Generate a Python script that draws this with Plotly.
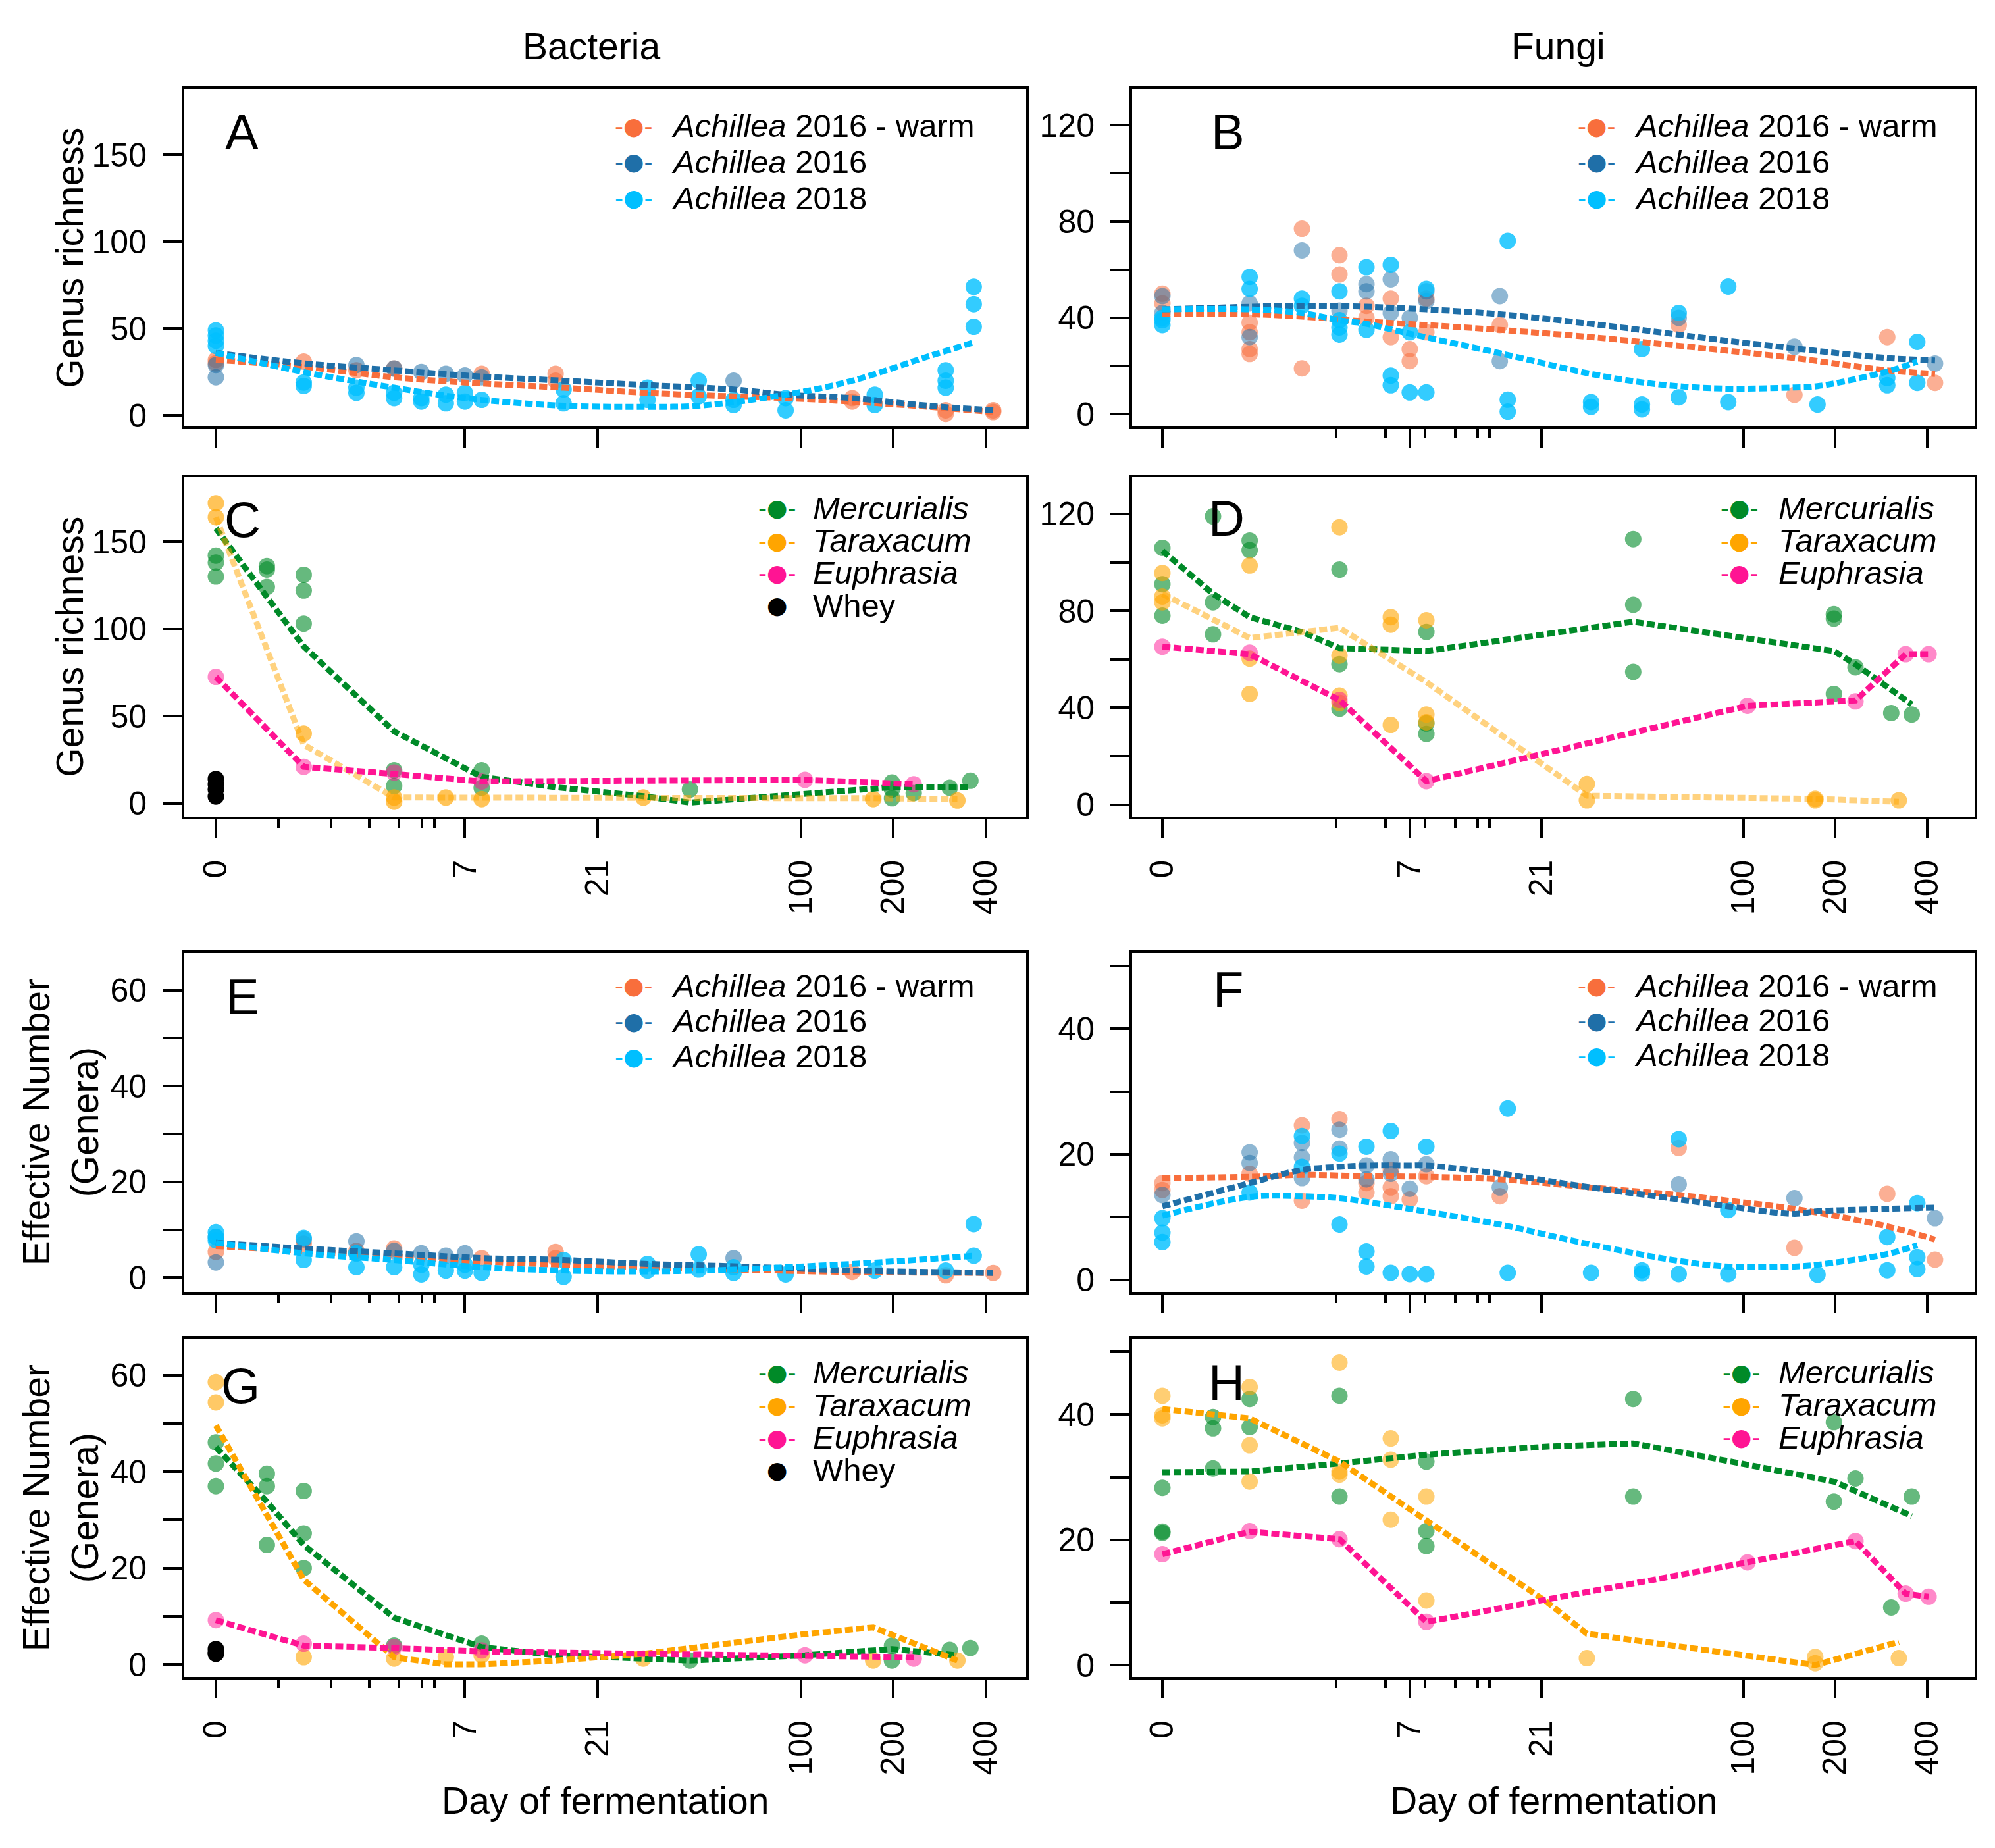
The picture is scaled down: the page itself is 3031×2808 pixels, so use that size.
import numpy as np
import plotly.graph_objects as go

W, H = 3031, 2808
OFF = 1.3  # shift used by the log day axis


def tx(days):
    return np.log((np.asarray(days, dtype=float) + OFF) / OFF)


# ---------------- data (day of fermentation, value) ----------------
# A: bacteria genus richness, Achillea
a_warm_day = [0, 0, 1.2, 2.4, 3.6, 8.1, 15, 15, 147, 147, 296, 296, 422, 422]
a_warm_val = [32, 30, 31, 26, 27, 24, 24, 20, 10, 8, 3, 1, 3, 2]
a_a16_day = [0, 0, 2.4, 3.6, 4.7, 5.9, 7, 8.1, 60]
a_a16_val = [29, 22, 29, 27, 25, 24, 23, 22, 20]
a_a18_day = [0, 0, 0, 0, 1.2, 1.2, 2.4, 2.4, 3.6, 3.6, 4.7, 4.7, 5.9, 5.9, 7, 7, 8.1,
             16, 16, 31, 31, 46, 46, 60, 60, 89, 89, 174, 174, 296, 296, 296, 365, 365, 365]
a_a18_val = [49, 46, 43, 40, 19, 17, 16, 13, 13, 10, 10, 8, 12, 7, 13, 8, 9,
             15, 7, 16, 9, 20, 11, 9, 6, 10, 3, 12, 6, 26, 20, 16, 74, 64, 51]
a_fit_day = [0, 1.2, 3.6, 7, 16, 31, 60, 89, 147, 260, 422]
a_warm_fit = [32, 28, 22, 19, 16, 13, 11, 10, 8, 5, 2]
a_a16_fit = [36, 30, 26, 23, 20, 17.5, 15, 12, 10, 5.6, 3]
a_a18_fit_day = [0, 1.2, 3.6, 7, 16, 31, 46, 89, 147, 260, 365]
a_a18_fit = [36, 25, 16, 10, 5.6, 5, 5.6, 12, 20, 34, 42]

# B: fungi genus richness, Achillea
b_warm_day = [0, 0, 1.2, 1.2, 1.2, 1.2, 2.4, 2.4, 3.6, 3.6, 4.7, 4.7, 5.9, 5.9, 7, 7,
              8.1, 8.1, 15, 61, 147, 296, 424]
b_warm_val = [50, 46, 38, 34, 27, 25, 77, 19, 66, 58, 45, 40, 48, 32, 27, 22,
              48, 34, 37, 37, 8, 32, 13]
b_a16_day = [0, 0, 1.2, 1.2, 2.4, 3.6, 4.7, 4.7, 5.9, 5.9, 7, 8.1, 8.1, 15, 15, 61, 147, 424]
b_a16_val = [49, 42, 46, 32, 68, 43, 54, 51, 56, 42, 40, 51, 47, 49, 22, 40, 28, 21]
b_a18_day = [0, 0, 0, 1.2, 1.2, 2.4, 2.4, 3.6, 3.6, 3.6, 3.6, 4.7, 4.7, 5.9, 5.9, 5.9,
             7, 7, 8.1, 8.1, 16, 16, 16, 31, 31, 46, 46, 46, 61, 61, 89, 89, 175,
             296, 296, 371, 371]
b_a18_val = [40, 37, 39, 57, 52, 48, 45, 51, 39, 36, 33, 61, 35, 62, 16, 12,
             34, 9, 52, 9, 72, 6, 1, 5, 3, 27, 4, 2, 42, 7, 53, 5, 4,
             15, 12, 30, 13]
b_fit_day = [0, 1.2, 2.4, 4.7, 8.1, 15, 31, 61, 89, 147, 296, 424]
b_warm_fit = [41.5, 41.5, 40.5, 38.5, 37, 35, 32, 28.4, 26.3, 23.3, 18.2, 16.7]
b_a16_fit = [43.5, 44.6, 45, 44.6, 43.5, 41.5, 37.5, 33, 30.4, 27.3, 23.3, 22.3]
b_a18_fit_day = [0, 1.2, 2.4, 3.6, 4.7, 7, 15, 31, 46, 61, 89, 147, 175, 296, 371]
b_a18_fit = [43.5, 43.5, 42, 39, 37.5, 33.4, 25.3, 16.7, 13.2, 11.6, 10.6, 11.1, 11.6, 17.7, 21.8]

# C: bacteria genus richness, other plants
c_mer_day = [0, 0, 0, 0.6, 0.6, 0.6, 1.2, 1.2, 1.2, 3.6, 3.6, 8.1, 8.1, 43, 198, 198, 198, 233, 305, 356]
c_mer_val = [142, 138, 130, 136, 134, 124, 131, 122, 103, 19, 10, 19, 9, 8, 12, 8, 3, 6, 9, 13]
c_tar_day = [0, 0, 1.2, 3.6, 3.6, 5.9, 8.1, 30, 172, 323]
c_tar_val = [172, 164, 40, 3.4, 1, 3.4, 2.5, 3.4, 2.5, 1.7]
c_eup_day = [0, 1.2, 3.6, 8.1, 103, 233]
c_eup_val = [72.5, 21, 17.7, 12.6, 13.5, 11]
c_whey_day = [0, 0, 0, 0]
c_whey_val = [14, 11, 8, 4]
c_mer_fit_day = [0, 1.2, 3.6, 8.1, 15, 30, 43, 103, 198, 356]
c_mer_fit = [157.6, 90, 41.3, 15.2, 9.3, 4.2, 0.5, 5.9, 9.3, 9.3]
c_tar_fit_day = [0, 1.2, 3.6, 5.9, 8.1, 30, 172, 323]
c_tar_fit = [164, 33.7, 3.4, 3.4, 3.4, 3.4, 3, 2.5]
c_eup_fit_day = [0, 1.2, 3.6, 8.1, 103, 233]
c_eup_fit = [72.5, 21, 16.9, 12.6, 13.5, 11]

# D: fungi genus richness, other plants
d_mer_day = [0, 0, 0, 0.6, 0.6, 0.6, 1.2, 1.2, 3.6, 3.6, 3.6, 8.1, 8.1, 8.1,
             43, 43, 43, 198, 198, 198, 233, 305, 356]
d_mer_val = [106, 91, 78, 119, 83.5, 70.3, 109, 105, 97, 58, 39.6, 71.3, 33.5, 29.2,
             109.6, 82.5, 54.8, 78.6, 76.8, 45.7, 56.7, 37.8, 37.2]
d_tar_day = [0, 0, 0, 1.2, 1.2, 1.2, 3.6, 3.6, 3.6, 3.6, 5.9, 5.9, 5.9, 8.1, 8.1, 8.1,
             30, 30, 172, 172, 323]
d_tar_val = [95.6, 85.9, 83.5, 98.7, 60.3, 45.7, 114.5, 61.5, 45, 42, 77.4, 74.3, 32.9,
             76.1, 37.2, 34, 8.5, 1.8, 2.4, 1.8, 1.8]
d_eup_day = [0, 1.2, 3.6, 8.1, 103, 233, 340, 404]
d_eup_val = [65.2, 62.7, 43.2, 9.7, 40.8, 42.6, 62.1, 62.1]
d_mer_fit_day = [0, 0.6, 1.2, 2.4, 3.6, 5.9, 8.1, 43, 103, 198, 233, 356]
d_mer_fit = [104.8, 87, 77.4, 71.3, 64.6, 64, 63.4, 75.5, 68.8, 63.4, 57.9, 41.4]
d_tar_fit_day = [0, 1.2, 3.6, 8.1, 30, 172, 323]
d_tar_fit = [87, 68.8, 73, 50.6, 3.7, 2.4, 1.2]
d_eup_fit_day = [0, 1.2, 3.6, 8.1, 103, 233, 340, 404]
d_eup_fit = [65.2, 62.1, 43.2, 9.7, 40.8, 43, 62.1, 62.1]

# E: bacteria effective number, Achillea
e_warm_day = [0, 1.2, 2.4, 3.6, 8.1, 15, 15, 147, 296, 422]
e_warm_val = [5.4, 7.1, 5.6, 6.1, 4.1, 5.4, 4.1, 1.2, 0.5, 1]
e_a16_day = [0, 0, 1.2, 2.4, 2.4, 3.6, 4.7, 5.9, 7, 60]
e_a16_val = [8.5, 3.2, 8, 7.6, 5.1, 5.6, 5.1, 4.6, 5.1, 4.1]
e_a18_day = [0, 0, 0, 1.2, 1.2, 2.4, 2.4, 3.6, 4.7, 4.7, 5.9, 7, 7, 8.1, 16, 16,
             31, 31, 46, 46, 60, 60, 89, 174, 296, 365, 365]
e_a18_val = [9.5, 8.5, 7.8, 8.3, 3.7, 5.1, 2.2, 2.2, 2.7, 0.7, 1.5, 2.7, 1.5, 1, 3.7, 0.2,
             2.9, 1.5, 4.9, 1.7, 2.2, 1, 0.7, 1.5, 1.5, 11.2, 4.6]
e_warm_fit_day = [0, 1.2, 3.6, 8.1, 16, 31, 60, 147, 422]
e_warm_fit = [6.6, 5.6, 4.4, 3.4, 2.7, 2.2, 1.7, 1.2, 1]
e_a16_fit_day = [0, 1.2, 3.6, 8.1, 16, 31, 60, 89, 147, 422]
e_a16_fit = [7.3, 6.1, 5.1, 4.1, 3.7, 2.9, 2.4, 2, 1.5, 1]
e_a18_fit_day = [0, 1.2, 3.6, 8.1, 16, 31, 60, 89, 147, 260, 365]
e_a18_fit = [7.3, 5.1, 3.7, 2.2, 1.5, 1.3, 1.7, 2.2, 2.9, 3.9, 4.6]

# F: fungi effective number, Achillea
f_warm_day = [0, 0, 1.2, 2.4, 2.4, 3.6, 4.7, 4.7, 5.9, 5.9, 5.9, 7, 8.1, 15, 61, 147, 296, 424]
f_warm_val = [15.4, 14.3, 16.9, 24.6, 12.6, 25.6, 15.4, 13.9, 17.5, 14.7, 13.3, 12.8, 16.5,
              13.3, 21, 5.1, 13.7, 3.2]
f_a16_day = [0, 1.2, 1.2, 2.4, 2.4, 2.4, 3.6, 3.6, 4.7, 4.7, 5.9, 5.9, 7, 8.1, 15, 61, 147, 424]
f_a16_val = [13.5, 20.3, 18.6, 21.8, 19.5, 16.2, 23.9, 20.9, 18.2, 16, 19.2, 16.9, 14.5, 18.4,
             14.7, 15.2, 13, 9.8]
f_a18_day = [0, 0, 0, 1.2, 2.4, 2.4, 3.6, 3.6, 4.7, 4.7, 4.7, 5.9, 5.9, 7, 8.1, 8.1, 16, 16,
             31, 46, 46, 61, 61, 89, 89, 175, 296, 296, 371, 371, 371]
f_a18_val = [9.8, 7.5, 6, 13.9, 22.9, 18, 20.1, 8.8, 21.2, 4.5, 2.1, 23.7, 1.1, 0.9, 21.2, 0.9,
             27.3, 1.1, 1.1, 1.5, 1, 22.4, 0.9, 11.1, 0.9, 0.8, 6.8, 1.5, 12.2, 3.6, 1.7]
f_warm_fit_day = [0, 1.2, 2.4, 4.7, 8.1, 15, 31, 61, 89, 147, 296, 424]
f_warm_fit = [16.2, 16.4, 16.7, 16.5, 16.4, 16, 14.7, 13.5, 12.6, 11.3, 8.5, 6.4]
f_a16_fit_day = [0, 1.2, 2.4, 3.6, 4.7, 7, 8.1, 15, 31, 61, 89, 147, 175, 296, 424]
f_a16_fit = [11.7, 15.4, 17.5, 18, 18.2, 18.2, 18.2, 16.9, 14.7, 12.8, 11.7, 10.5, 10.9, 11.3, 11.5]
f_a18_fit_day = [0, 1.2, 2.4, 3.6, 4.7, 7, 15, 31, 61, 89, 147, 175, 296, 371]
f_a18_fit = [10.2, 13.2, 13.3, 13, 12.4, 11.3, 8.8, 5.6, 3, 2.1, 2.1, 2.4, 4.1, 5.5]

# G: bacteria effective number, other plants
g_mer_day = [0, 0, 0, 0.6, 0.6, 0.6, 1.2, 1.2, 1.2, 3.6, 8.1, 43, 198, 198, 305, 356]
g_mer_val = [46.1, 41.7, 37, 39.6, 37, 24.8, 36, 27.2, 20, 3.9, 4.3, 0.8, 3.9, 0.8, 3, 3.4]
g_tar_day = [0, 0, 1.2, 3.6, 5.9, 8.1, 30, 172, 323]
g_tar_val = [58.6, 54.4, 1.5, 1.2, 1.5, 1.9, 1.2, 0.8, 0.8]
g_eup_day = [0, 1.2, 3.6, 8.1, 103, 233]
g_eup_val = [9.2, 4.3, 3.6, 2.9, 1.9, 1.2]
g_whey_day = [0, 0, 0]
g_whey_val = [3.2, 2.5, 2.2]
g_mer_fit_day = [0, 0.6, 1.2, 3.6, 8.1, 15, 30, 43, 103, 198, 323]
g_mer_fit = [45.1, 33.8, 24.8, 9.7, 3.6, 1.9, 1.2, 0.8, 1.9, 3.2, 1.9]
g_tar_fit_day = [0, 1.2, 3.6, 5.9, 8.1, 15, 30, 103, 172, 323]
g_tar_fit = [49.6, 17.6, 1.5, 0, 0, 0.8, 2.2, 6.3, 7.7, 0.8]
g_eup_fit_day = [0, 1.2, 3.6, 8.1, 30, 103, 233]
g_eup_fit = [9.2, 3.9, 3.4, 2.7, 2.2, 1.9, 1.5]

# H: fungi effective number, other plants
h_mer_day = [0, 0, 0, 0.6, 0.6, 0.6, 1.2, 1.2, 3.6, 3.6, 8.1, 8.1, 8.1, 43, 43, 198, 198, 233, 305, 356]
h_mer_val = [28.3, 21.3, 21.1, 39.6, 37.8, 31.4, 42.5, 38, 43, 26.9, 32.5, 21.4, 19, 42.5, 26.9,
             38.8, 26.1, 29.8, 9.2, 26.9]
h_tar_day = [0, 0, 0, 1.2, 1.2, 1.2, 3.6, 3.6, 3.6, 5.9, 5.9, 5.9, 8.1, 8.1, 30, 172, 172, 323]
h_tar_val = [43, 39.9, 39.4, 44.4, 35.1, 29.3, 48.3, 30.9, 30.4, 36.2, 32.8, 23.2, 26.9, 10.3,
             1.1, 1.3, 0.3, 1.1]
h_eup_day = [0, 1.2, 3.6, 8.1, 103, 233, 340, 404]
h_eup_val = [17.7, 21.4, 20.1, 6.9, 16.4, 19.8, 11.4, 10.9]
h_mer_fit_day = [0, 0.6, 1.2, 3.6, 8.1, 22, 43, 103, 198, 356]
h_mer_fit = [30.8, 30.8, 30.9, 32.2, 33.6, 34.9, 35.4, 32, 29.3, 23.8]
h_tar_fit_day = [0, 1.2, 3.6, 8.1, 22, 30, 103, 172, 323]
h_tar_fit = [40.9, 39.4, 32.5, 23.2, 10, 5, 1.6, 0, 3.7]
h_eup_fit_day = [0, 1.2, 3.6, 8.1, 103, 233, 340, 404]
h_eup_fit = [17.7, 21.3, 20.1, 6.9, 16.4, 19.8, 11.4, 10.9]

# axis ticks
day_ticks = [0, 7, 21, 100, 200, 400]
day_minor_bact = [0.77, 1.76, 2.77, 3.77, 4.73, 5.32]
day_minor_fungi = [3.47, 5.61, 8.0, 10.4, 12.5, 13.8]

# ---------------- styling ----------------
FONT = "Liberation Sans, Arial, Helvetica, sans-serif"
WARM = (248, 110, 60)
A16 = (31, 111, 168)
A18 = (0, 191, 255)
MER = (0, 138, 40)
TAR = (255, 165, 0)
EUP = (255, 20, 147)
WHEY = (0, 0, 0)


def rgba(c, a):
    return "rgba(%d,%d,%d,%.2f)" % (c[0], c[1], c[2], a)


ROWS = [(128, 643), (720, 1238), (1446, 1963), (2035, 2551)]
COLS = [(272, 1551), (1712, 2992)]
XR = [[-0.235, 6.031], [-0.227, 6.087]]

ach_leg = [("<i>Achillea</i> 2016 - warm", WARM, True),
           ("<i>Achillea</i> 2016", A16, True),
           ("<i>Achillea</i> 2018", A18, True)]
oth_leg = [("<i>Mercurialis</i>", MER, True),
           ("<i>Taraxacum</i>", TAR, True),
           ("<i>Euphrasia</i>", EUP, True)]
whey_leg = oth_leg + [("Whey", WHEY, False)]

t_rich_b = [0, 50, 100, 150]
t_rich_f = [0, 20, 40, 60, 80, 100, 120]
t_eff_b = [0, 10, 20, 30, 40, 50, 60]
t_eff_f = [0, 10, 20, 30, 40, 50]

panels = [
    dict(letter="A", row=0, col=0, yr=[-6.4, 187.7], yt=t_rich_b, every=1, labels=False,
         minor=None, smooth=True, lpos=(359, 193), leg=ach_leg, legx=(955, 1010), legy=(184, 55),
         series=[(a_warm_day, a_warm_val, a_fit_day, a_warm_fit, WARM, 0.6, 1.0),
                 (a_a16_day, a_a16_val, a_fit_day, a_a16_fit, A16, 0.55, 1.0),
                 (a_a18_day, a_a18_val, a_a18_fit_day, a_a18_fit, A18, 0.8, 1.0)]),
    dict(letter="B", row=0, col=1, yr=[-5.2, 135], yt=t_rich_f, every=2, labels=False,
         minor=day_minor_fungi, smooth=True, lpos=(1857, 193), leg=ach_leg, legx=(2417, 2473), legy=(184, 55),
         series=[(b_warm_day, b_warm_val, b_fit_day, b_warm_fit, WARM, 0.55, 1.0),
                 (b_a16_day, b_a16_val, b_fit_day, b_a16_fit, A16, 0.5, 1.0),
                 (b_a18_day, b_a18_val, b_a18_fit_day, b_a18_fit, A18, 0.8, 1.0)]),
    dict(letter="C", row=1, col=0, yr=[-7.5, 187], yt=t_rich_b, every=1, labels=True,
         minor=day_minor_bact, smooth=False, lpos=(360, 785), leg=whey_leg, legx=(1172, 1225), legy=(767, 49.5),
         series=[(c_mer_day, c_mer_val, c_mer_fit_day, c_mer_fit, MER, 0.6, 1.0),
                 (c_tar_day, c_tar_val, c_tar_fit_day, c_tar_fit, TAR, 0.65, 0.5),
                 (c_eup_day, c_eup_val, c_eup_fit_day, c_eup_fit, EUP, 0.5, 1.0),
                 (c_whey_day, c_whey_val, None, None, WHEY, 1.0, 1.0)]),
    dict(letter="D", row=1, col=1, yr=[-4.9, 135.2], yt=t_rich_f, every=2, labels=True,
         minor=day_minor_fungi, smooth=False, lpos=(1856, 783), leg=oth_leg, legx=(2634, 2692), legy=(767, 49.5),
         series=[(d_mer_day, d_mer_val, d_mer_fit_day, d_mer_fit, MER, 0.6, 1.0),
                 (d_tar_day, d_tar_val, d_tar_fit_day, d_tar_fit, TAR, 0.6, 0.5),
                 (d_eup_day, d_eup_val, d_eup_fit_day, d_eup_fit, EUP, 0.5, 1.0)]),
    dict(letter="E", row=2, col=0, yr=[-2.9, 67.8], yt=t_eff_b, every=2, labels=False,
         minor=day_minor_bact, smooth=True, lpos=(360, 1513), leg=ach_leg, legx=(955, 1010), legy=(1496, 54),
         series=[(e_warm_day, e_warm_val, e_warm_fit_day, e_warm_fit, WARM, 0.6, 1.0),
                 (e_a16_day, e_a16_val, e_a16_fit_day, e_a16_fit, A16, 0.55, 1.0),
                 (e_a18_day, e_a18_val, e_a18_fit_day, e_a18_fit, A18, 0.8, 1.0)]),
    dict(letter="F", row=2, col=1, yr=[-1.9, 52.1], yt=t_eff_f, every=2, labels=False,
         minor=day_minor_fungi, smooth=True, lpos=(1858, 1502), leg=ach_leg, legx=(2417, 2473), legy=(1496, 53),
         series=[(f_warm_day, f_warm_val, f_warm_fit_day, f_warm_fit, WARM, 0.55, 1.0),
                 (f_a16_day, f_a16_val, f_a16_fit_day, f_a16_fit, A16, 0.5, 1.0),
                 (f_a18_day, f_a18_val, f_a18_fit_day, f_a18_fit, A18, 0.8, 1.0)]),
    dict(letter="G", row=3, col=0, yr=[-2.6, 67.6], yt=t_eff_b, every=2, labels=True,
         minor=day_minor_bact, smooth=False, lpos=(357, 2107), leg=whey_leg, legx=(1172, 1225), legy=(2086, 49.7),
         series=[(g_mer_day, g_mer_val, g_mer_fit_day, g_mer_fit, MER, 0.6, 1.0),
                 (g_tar_day, g_tar_val, g_tar_fit_day, g_tar_fit, TAR, 0.6, 1.0),
                 (g_eup_day, g_eup_val, g_eup_fit_day, g_eup_fit, EUP, 0.5, 1.0),
                 (g_whey_day, g_whey_val, None, None, WHEY, 1.0, 1.0)]),
    dict(letter="H", row=3, col=1, yr=[-1.9, 52.1], yt=t_eff_f, every=2, labels=True,
         minor=day_minor_fungi, smooth=False, lpos=(1855, 2101), leg=oth_leg, legx=(2637, 2692), legy=(2086, 49.5),
         series=[(h_mer_day, h_mer_val, h_mer_fit_day, h_mer_fit, MER, 0.6, 1.0),
                 (h_tar_day, h_tar_val, h_tar_fit_day, h_tar_fit, TAR, 0.55, 1.0),
                 (h_eup_day, h_eup_val, h_eup_fit_day, h_eup_fit, EUP, 0.5, 1.0)]),
]

fig = go.Figure()
layout = dict(width=W, height=H, margin=dict(l=0, r=0, t=0, b=0),
              paper_bgcolor="white", plot_bgcolor="white", showlegend=False,
              font=dict(family=FONT, size=50, color="black"))
annotations = []

for i, p in enumerate(panels, start=1):
    sfx = "" if i == 1 else str(i)
    xa, ya = "x" + sfx, "y" + sfx
    r0, r1 = ROWS[p["row"]]
    c0, c1 = COLS[p["col"]]

    for pd_, pv, fd, fv, col, pa, la in p["series"]:
        fig.add_trace(go.Scatter(
            x=tx(pd_), y=pv, mode="markers", xaxis=xa, yaxis=ya,
            marker=dict(size=25, color=rgba(col, pa), line=dict(width=0))))
    for pd_, pv, fd, fv, col, pa, la in p["series"]:
        if fd is None:
            continue
        fig.add_trace(go.Scatter(
            x=tx(fd), y=fv, mode="lines", xaxis=xa, yaxis=ya,
            line=dict(color=rgba(col, la), width=9, dash="12px,5px",
                      shape="spline" if p["smooth"] else "linear", smoothing=1.0)))

    xax = dict(domain=[c0 / W, c1 / W], range=XR[p["col"]], anchor=ya,
               tickmode="array", tickvals=tx(day_ticks), ticktext=[str(d) for d in day_ticks],
               showticklabels=p["labels"], tickangle=-90, ticks="outside", ticklen=28,
               tickwidth=4, tickcolor="black", ticklabelstandoff=14,
               showline=True, mirror=True, linecolor="black", linewidth=4,
               showgrid=False, zeroline=False, tickfont=dict(size=50))
    if p["minor"] is not None:
        xax["minor"] = dict(tickmode="array", tickvals=tx(p["minor"]), ticks="outside",
                            ticklen=13, tickwidth=4, tickcolor="black", showgrid=False)
    yax = dict(domain=[1 - r1 / H, 1 - r0 / H], range=p["yr"], anchor=xa,
               tickmode="array", tickvals=p["yt"],
               ticktext=[str(v) if k % p["every"] == 0 else "" for k, v in enumerate(p["yt"])],
               ticks="outside", ticklen=29, tickwidth=4, tickcolor="black", ticklabelstandoff=14,
               showline=True, mirror=True, linecolor="black", linewidth=4,
               showgrid=False, zeroline=False, tickfont=dict(size=50))
    layout["xaxis" + sfx] = xax
    layout["yaxis" + sfx] = yax

    # panel letter
    annotations.append(dict(text=p["letter"], x=p["lpos"][0] / W, y=1 - p["lpos"][1] / H,
                            xref="paper", yref="paper", xanchor="center", yanchor="middle",
                            showarrow=False, font=dict(size=76, family=FONT)))
    # legend
    sx, tx0 = p["legx"]
    y0, dy = p["legy"]
    for k, (lab, col, line) in enumerate(p["leg"]):
        yy = 1 - (y0 + k * dy) / H
        annotations.append(dict(text="-●-" if line else "●", x=sx / W, y=yy,
                                xref="paper", yref="paper", xanchor="center", yanchor="middle",
                                showarrow=False,
                                font=dict(size=36, family="DejaVu Sans", color=rgba(col, 1.0))))
        annotations.append(dict(text=lab, x=tx0 / W, y=yy, xref="paper", yref="paper",
                                xanchor="left", yanchor="middle", showarrow=False,
                                font=dict(size=49, family=FONT)))

# column titles
for txt, xc in [("Bacteria", 890), ("Fungi", 2359)]:
    annotations.append(dict(text=txt, x=xc / W, y=1 - 62 / H, xref="paper", yref="paper",
                            xanchor="center", yanchor="middle", showarrow=False,
                            font=dict(size=57, family=FONT)))
# x titles
for (c0, c1) in COLS:
    annotations.append(dict(text="Day of fermentation", x=(c0 + c1) / 2 / W, y=1 - 2740 / H,
                            xref="paper", yref="paper", xanchor="center", yanchor="middle",
                            showarrow=False, font=dict(size=57, family=FONT)))
# y titles
for ri, (txt, xc) in enumerate([("Genus richness", 98), ("Genus richness", 98),
                                ("Effective Number<br>(Genera)", 84),
                                ("Effective Number<br>(Genera)", 84)]):
    r0, r1 = ROWS[ri]
    annotations.append(dict(text=txt, x=xc / W, y=1 - (r0 + r1) / 2 / H, xref="paper",
                            yref="paper", xanchor="center", yanchor="middle", textangle=-90,
                            showarrow=False, font=dict(size=57, family=FONT)))

layout["annotations"] = annotations
fig.update_layout(**layout)
fig.write_html("out.html")
